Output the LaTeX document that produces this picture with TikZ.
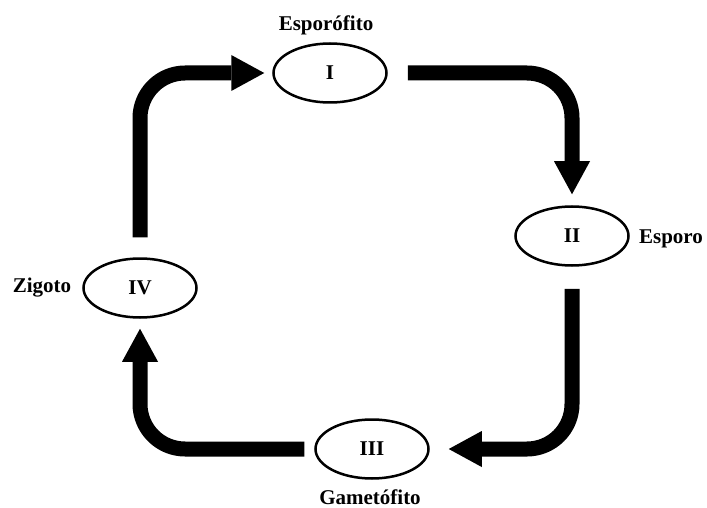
\documentclass[tikz,border=0pt]{standalone}
\usepackage{fontspec}
\setmainfont{Liberation Serif}
\usetikzlibrary{arrows.meta,shapes.geometric}
\tikzstyle{stage}=[ellipse,draw=black,line width=2.5pt,
                   minimum width=113pt,minimum height=59pt,inner sep=0pt,
                   font=\fontsize{21pt}{25pt}\selectfont\bfseries]
\tikzstyle{stagetext}=[inner sep=0pt,
                       font=\fontsize{21pt}{25pt}\selectfont\bfseries]
\tikzstyle{cyclearrow}=[line width=15pt,rounded corners=45pt,
                        -{Triangle[length=33pt,width=36pt,line width=0pt]}]

\begin{document}
\begin{tikzpicture}[x=1pt,y=-1pt]
    \useasboundingbox (0,0) rectangle (707,508);
    \node (s1) at (330, 73) [stage]{I};
    \node (s2) at (572,236) [stage]{II};
    \node (s3) at (372,449) [stage]{III};
    \node (s4) at (140,288) [stage]{IV};
    \node (l1) at (326, 25) [stagetext]{Esporófito};
    \node (l2) at (671,239) [stagetext]{Esporo};
    \node (l3) at (370,497) [stagetext]{Gametófito};
    \node (l4) at ( 42,288) [stagetext]{Zigoto};
    \draw[cyclearrow,shorten <=20pt,shorten >=8pt]  (s4) |- (s1);
    \draw[cyclearrow,shorten <=20pt,shorten >=11pt] (s1) -| (s2);
    \draw[cyclearrow,shorten <=22pt,shorten >=19pt] (s2) |- (s3);
    \draw[cyclearrow,shorten <=10pt,shorten >=10pt] (s3) -| (s4);
  \end{tikzpicture}
\end{document}
